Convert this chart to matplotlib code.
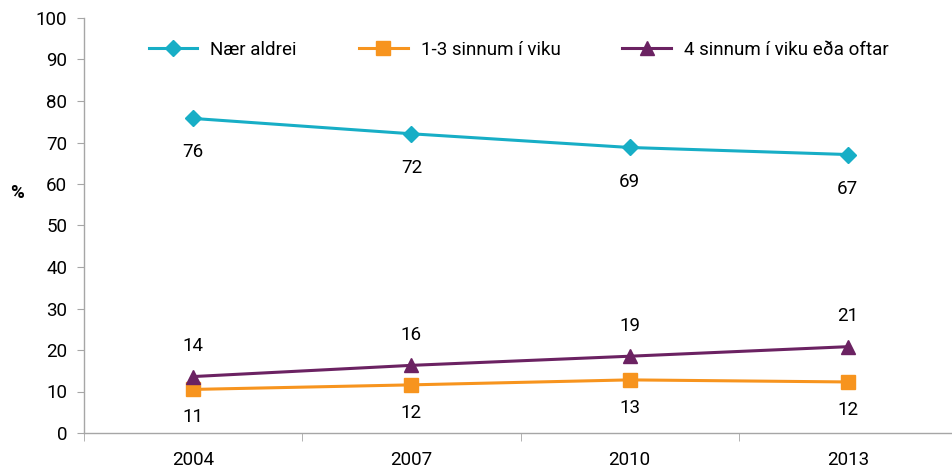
import numpy as np
import matplotlib.pyplot as plt
from matplotlib.ticker import FixedLocator

plt.rcParams['font.family'] = ['Roboto', 'DejaVu Sans']

# data
years = ['2004', '2007', '2010', '2013']
naer_aldrei = [75.8, 72.1, 68.8, 67.1]
sinnum_1_3 = [10.5, 11.6, 12.8, 12.3]
sinnum_4 = [13.6, 16.3, 18.5, 20.8]
labels_naer = ['76', '72', '69', '67']
labels_1_3 = ['11', '12', '13', '12']
labels_4 = ['14', '16', '19', '21']
series_names = ['Nær aldrei', '1-3 sinnum í viku', '4 sinnum í viku eða oftar']

c_cyan = '#17AEC6'
c_orange = '#F7941E'
c_purple = '#6B2262'
grey = '#A6A6A6'

fig = plt.figure(figsize=(9.53, 4.70), dpi=100)
ax = fig.add_axes([84 / 953, 1 - 433 / 470, 873 / 953, 415 / 470])

x = np.arange(len(years))
ax.plot(x, naer_aldrei, color=c_cyan, lw=2.2, marker='D', ms=8.5, label=series_names[0], clip_on=False)
ax.plot(x, sinnum_1_3, color=c_orange, lw=2.2, marker='s', ms=9.5, label=series_names[1], clip_on=False)
ax.plot(x, sinnum_4, color=c_purple, lw=2.2, marker='^', ms=10, label=series_names[2], clip_on=False)

fs = 13.5
for i in range(len(years)):
    ax.annotate(labels_naer[i], (x[i], naer_aldrei[i]), xytext=(0, -24.5), textcoords='offset points',
                ha='center', va='center', fontsize=fs)
    ax.annotate(labels_1_3[i], (x[i], sinnum_1_3[i]), xytext=(0, -20), textcoords='offset points',
                ha='center', va='center', fontsize=fs)
    ax.annotate(labels_4[i], (x[i], sinnum_4[i]), xytext=(0, 22), textcoords='offset points',
                ha='center', va='center', fontsize=fs)

ax.set_xlim(-0.5, 3.5)
ax.set_ylim(0, 100)
ax.set_yticks(range(0, 101, 10))
ax.set_xticks(x)
ax.set_xticklabels(years)
ax.xaxis.set_minor_locator(FixedLocator([-0.5, 0.5, 1.5, 2.5]))

for s in ['top', 'right']:
    ax.spines[s].set_visible(False)
for s in ['left', 'bottom']:
    ax.spines[s].set_color(grey)
    ax.spines[s].set_linewidth(1)

ax.tick_params(axis='y', length=5, color=grey, labelsize=fs, pad=7)
ax.tick_params(axis='x', which='major', length=0, labelsize=fs, pad=13)
ax.tick_params(axis='x', which='minor', length=6, color=grey)

fig.text(17 / 953, 1 - 193 / 470, '%', fontsize=fs, fontweight='bold', ha='center', va='center')

ax.legend(loc='center', bbox_to_anchor=(0.498, 0.923), ncol=3, frameon=False, fontsize=fs,
          handlelength=2.6, handletextpad=0.7, columnspacing=3.3)

fig.savefig('out.png', dpi=100)
